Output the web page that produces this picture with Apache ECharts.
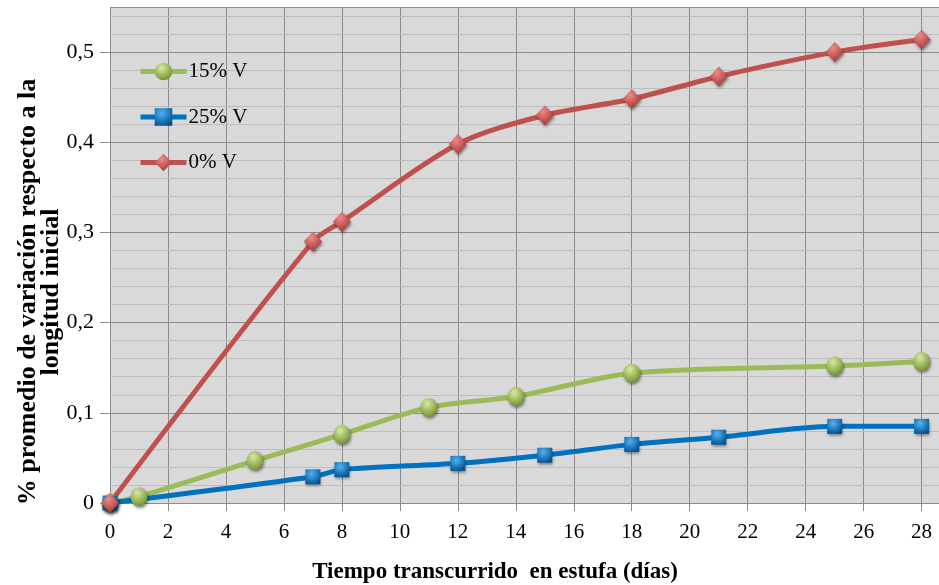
<!DOCTYPE html>
<html>
<head>
<meta charset="utf-8">
<script src="https://cdn.jsdelivr.net/npm/echarts@6/dist/echarts.min.js"></script>
<style>
  html, body { margin: 0; padding: 0; background: #ffffff; }
  #chart { width: 939px; height: 585px; }
</style>
</head>
<body>
<div id="chart"></div>
<script>
// Days in the oven for each measurement series
var days15 = [0, 1, 5, 8, 11, 14, 18, 25, 28];
var vals15 = [0, 0.007, 0.047, 0.076, 0.106, 0.118, 0.144, 0.152, 0.157];

var days25 = [0, 7, 8, 12, 15, 18, 21, 25, 28];
var vals25 = [0, 0.029, 0.037, 0.044, 0.053, 0.065, 0.073, 0.085, 0.085];

var days0 = [0, 7, 8, 12, 15, 18, 21, 25, 28];
var vals0 = [0, 0.290, 0.312, 0.398, 0.430, 0.448, 0.473, 0.500, 0.514];

var seriesNames = ['15% V', '25% V', '0% V'];
var xTitle = 'Tiempo transcurrido  en estufa (días)';
var yTitle = '% promedio de variación respecto a la\nlongitud inicial';

function pairs(xs, ys) {
  return xs.map(function (x, i) { return [x, ys[i]]; });
}

function shade(light, dark) {
  return new echarts.graphic.RadialGradient(0.4, 0.3, 0.75, [
    { offset: 0, color: light },
    { offset: 1, color: dark }
  ]);
}

var serif = '"Liberation Serif", "Times New Roman", serif';
var commaFmt = function (v) { return String(Math.round(v * 100) / 100).replace('.', ','); };

var markerShadow = {
  shadowBlur: 3,
  shadowColor: 'rgba(0,0,0,0.45)',
  shadowOffsetX: 1,
  shadowOffsetY: 2
};

function lineSeries(name, data, color, symbol, size, light, dark) {
  return {
    name: name,
    type: 'line',
    data: data,
    smooth: 0.3,
    symbol: symbol,
    symbolSize: size,
    showAllSymbol: true,
    lineStyle: { color: color, width: 5 },
    itemStyle: Object.assign({ color: shade(light, dark), borderWidth: 0 }, markerShadow),
    emphasis: { disabled: true },
    z: 3
  };
}

var chart = echarts.init(document.getElementById('chart'), null, { renderer: 'canvas' });

chart.setOption({
  animation: false,
  backgroundColor: '#ffffff',
  grid: {
    left: 110, right: 0, top: 7, bottom: 82,
    show: true, backgroundColor: '#d9d9d9', borderWidth: 0
  },
  legend: {
    orient: 'vertical',
    left: 138,
    top: 61,
    padding: 0,
    itemWidth: 46,
    itemHeight: 22,
    itemGap: 24.5,
    data: seriesNames,
    lineStyle: { width: 5 },
    textStyle: { fontFamily: serif, fontSize: 21, color: '#000', padding: [0, 0, 0, -3] }
  },
  xAxis: {
    type: 'value',
    min: 0,
    max: 28.6,
    interval: 2,
    axisLine: { show: true, lineStyle: { color: '#8c8c8c', width: 1 } },
    axisTick: { show: true, length: 8, lineStyle: { color: '#8c8c8c' } },
    axisLabel: {
      showMaxLabel: false,
      margin: 19,
      fontFamily: serif, fontSize: 21, color: '#000'
    },
    splitLine: { show: true, lineStyle: { color: '#8c8c8c', width: 1 } }
  },
  yAxis: [
    {
      type: 'value',
      min: 0,
      max: 0.55,
      interval: 0.1,
      axisLine: { show: false },
      axisTick: { show: true, length: 10, lineStyle: { color: '#8c8c8c' } },
      axisLabel: {
        showMaxLabel: false,
        margin: 16,
        fontFamily: serif, fontSize: 22, color: '#000',
        formatter: commaFmt
      },
      splitLine: { show: true, lineStyle: { color: '#8c8c8c', width: 1 } },
      z: 2
    },
    {
      // fine horizontal grid every 0.02
      type: 'value',
      min: 0,
      max: 0.55,
      interval: 0.02,
      axisLine: { show: false },
      axisTick: { show: false },
      axisLabel: { show: false },
      splitLine: { show: true, lineStyle: { color: '#bdbdbd', width: 1 } },
      z: 1
    }
  ],
  series: [
    lineSeries(seriesNames[0], pairs(days15, vals15), '#9bbb59', 'circle', [17, 19], '#d8eaa0', '#6f8f2c'),
    lineSeries(seriesNames[1], pairs(days25, vals25), '#0070c0', 'rect', [15, 15], '#4fb3f5', '#00508f'),
    lineSeries(seriesNames[2], pairs(days0, vals0), '#c0504d', 'diamond', [18, 20], '#f08a86', '#a03532')
  ],
  // Axis titles drawn as free text so the two-line vertical title sits beside the ticks
  graphic: [
    {
      type: 'text',
      x: 39.5,
      y: 292,
      rotation: Math.PI / 2,
      style: {
        text: yTitle,
        fontFamily: serif,
        fontWeight: 'bold',
        fontSize: 26,
        lineHeight: 23,
        fill: '#000',
        align: 'center',
        verticalAlign: 'middle'
      }
    },
    {
      type: 'text',
      x: 495,
      y: 572,
      style: {
        text: xTitle,
        fontFamily: serif,
        fontWeight: 'bold',
        fontSize: 23,
        fill: '#000',
        align: 'center',
        verticalAlign: 'middle'
      }
    }
  ]
});
</script>
</body>
</html>
